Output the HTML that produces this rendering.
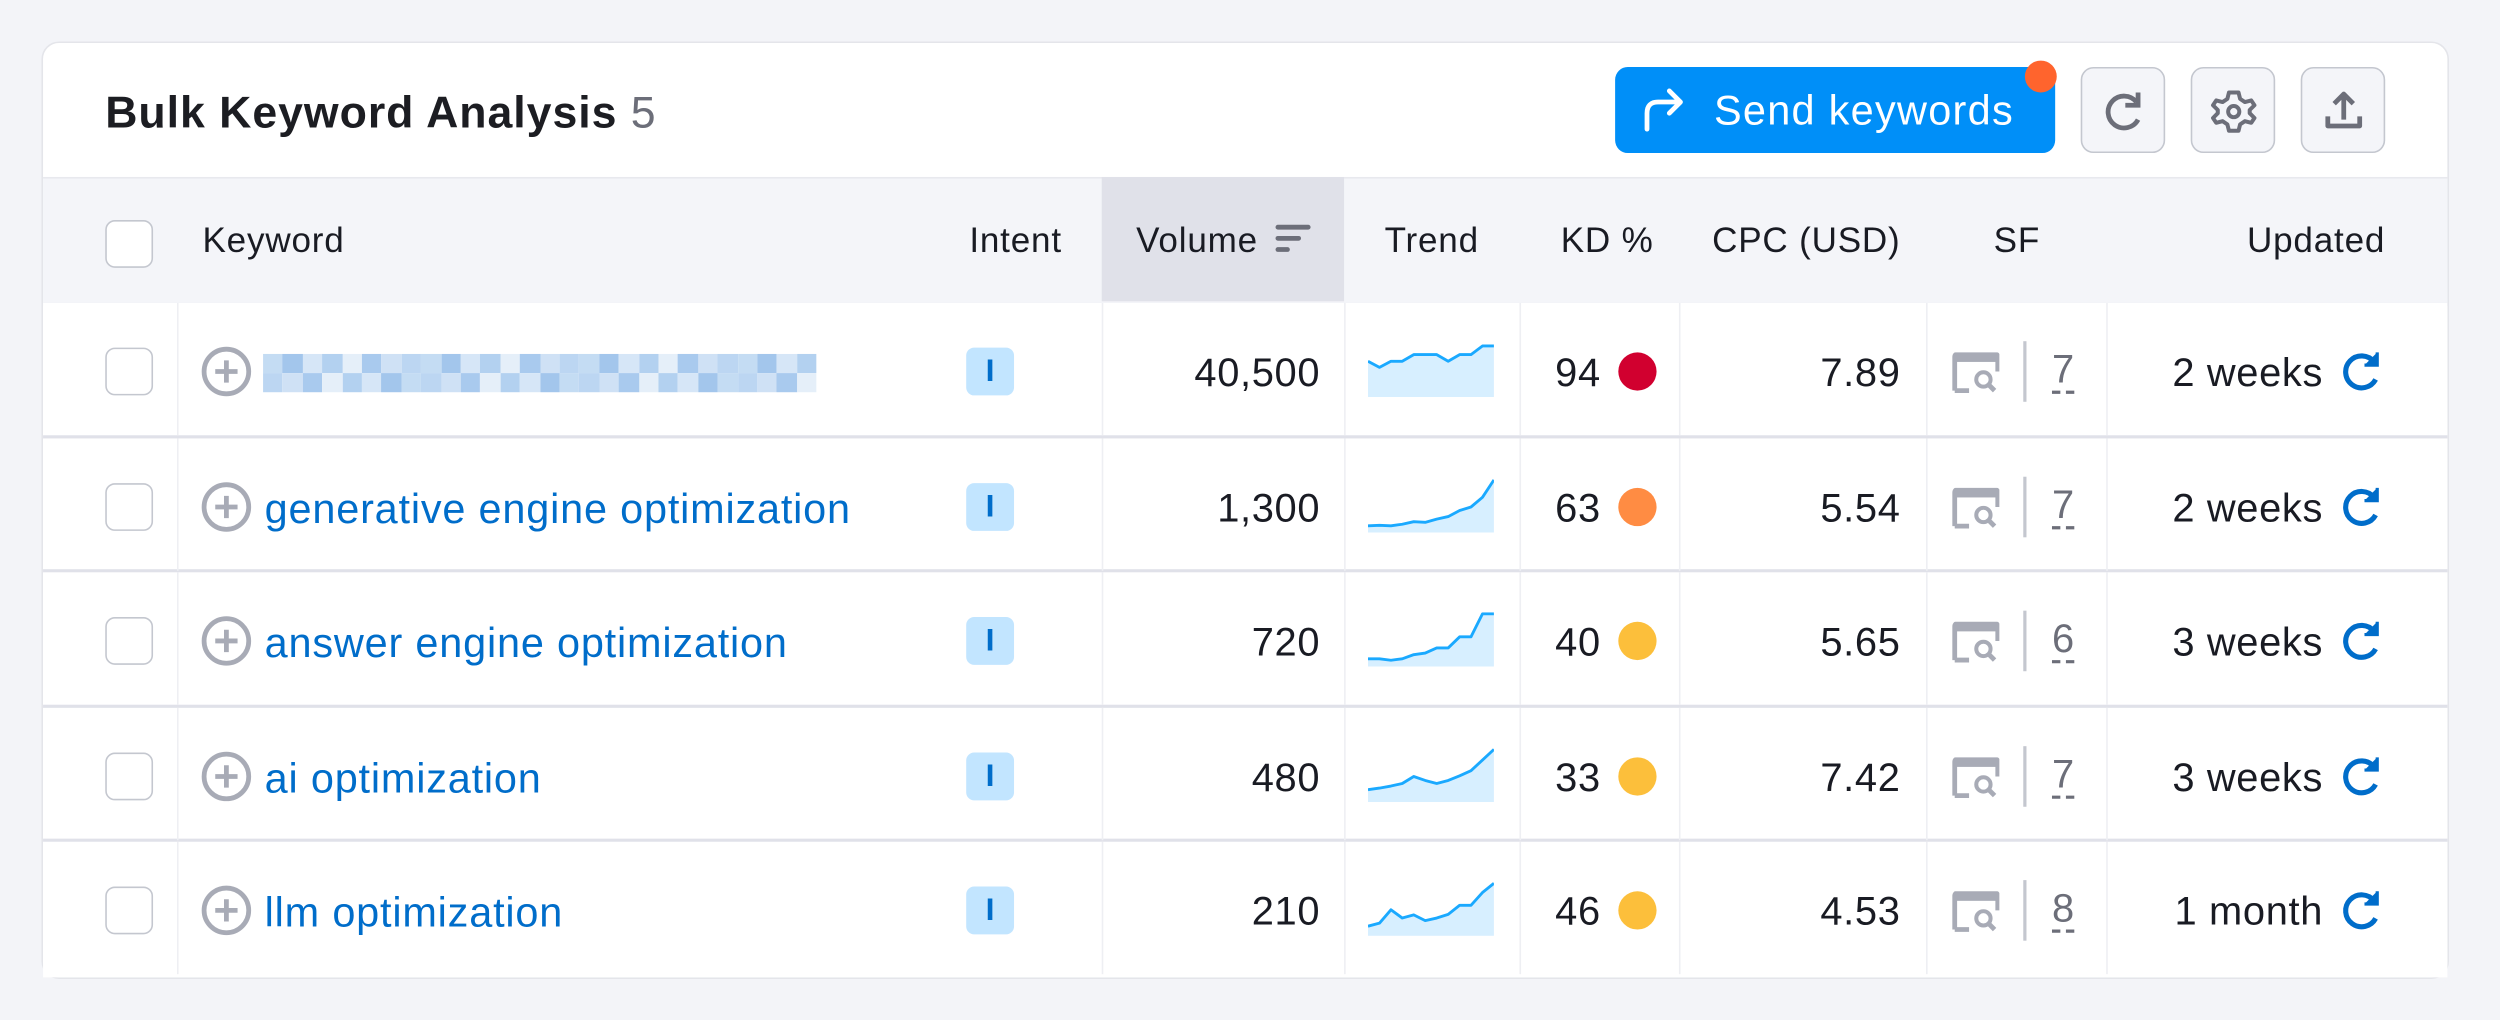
<!DOCTYPE html>
<html><head><meta charset="utf-8">
<style>
html,body{margin:0;padding:0;width:2500px;height:1020px;overflow:hidden;background:#f3f4f8;font-family:"Liberation Sans",Arial,sans-serif;}
#stage{position:absolute;left:0;top:0;width:1568px;height:640px;transform:scale(1.59439);transform-origin:0 0;}
.abs{position:absolute;}
#card{left:27px;top:27px;width:1508px;height:586px;background:#fff;border-radius:10px;box-shadow:0 0 0 1px #e4e5ea;overflow:hidden;}
.title{left:66px;top:55px;font-size:28px;letter-spacing:0.6px;font-weight:bold;color:#1c1d22;white-space:nowrap;}
.title span{font-weight:normal;color:#6c6e79;}
.send{left:1013px;top:42px;width:276px;height:54px;background:#008ff8;border-radius:8px;color:#fff;font-size:26px;letter-spacing:0.8px;}
.iconbtn{top:42px;width:51px;height:52px;background:#f4f5f9;border:1.5px solid #c4c7cf;border-radius:8px;}
.hdr{left:27px;top:111px;width:1508px;height:78px;background:#f4f5f9;border-top:1px solid #e8e9ee;border-bottom:2px solid #e0e1e9;}
.ht{font-size:22px;letter-spacing:0.5px;color:#191b23;top:138px;white-space:nowrap;}
.htr{text-align:right;}
.htc{text-align:center;}
.row{left:27px;width:1508px;height:83px;border-bottom:2px solid #e0e1e9;background:#fff;}
.vline{width:1px;background:#eeeff3;}
.cb{width:28px;height:28px;border:1.5px solid #c4c7cf;border-radius:6px;background:#fff;}
.kw{font-size:26px;letter-spacing:0.5px;color:#006dca;white-space:nowrap;}
.num{font-size:25px;letter-spacing:0.4px;color:#191b23;text-align:right;white-space:nowrap;}
.badge{width:30px;height:30px;background:#c2e5ff;border-radius:5px;color:#006dca;font-weight:bold;font-size:20px;text-align:center;line-height:30px;}
.dot{width:24px;height:24px;border-radius:50%;}
.sfn{font-size:25px;color:#6c6e79;border-bottom:2px dashed #6c6e79;line-height:25px;}
</style></head>
<body>
<div id="stage">
<div id="card" class="abs"></div>
<div class="abs title">Bulk Keyword Analysis <span>5</span></div>

<div class="abs send">
  <svg class="abs" style="left:16px;top:13px" width="30" height="28" viewBox="0 0 30 28"><path d="M4 26 V16 Q4 9 11 9 H25 M18 2 L25 9 L18 16" fill="none" stroke="#fff" stroke-width="3" stroke-linecap="round" stroke-linejoin="round"/></svg>
  <span class="abs" style="left:62px;top:12px;white-space:nowrap">Send keywords</span>
</div>
<div class="abs" style="left:1270px;top:38px;width:20px;height:20px;border-radius:50%;background:#ff642d;"></div>

<div class="abs iconbtn" style="left:1305px">
  <svg class="abs" style="left:12px;top:13px" width="28" height="28" viewBox="0 0 28 28"><path d="M22 8 A10 10 0 1 0 23 19" fill="none" stroke="#6c6e79" stroke-width="3"/><path d="M23 2 V10 H15" fill="none" stroke="#6c6e79" stroke-width="3"/></svg>
</div>
<div class="abs iconbtn" style="left:1374px">
  <svg class="abs" style="left:11px;top:12px" width="30" height="30" viewBox="0 0 30 30"><path d="M15 3 l3 0 1 4 3 2 4-1 2 3-3 3 0 2 3 3-2 3-4-1-3 2-1 4h-6l-1-4-3-2-4 1-2-3 3-3 0-2-3-3 2-3 4 1 3-2 1-4z" fill="none" stroke="#6c6e79" stroke-width="2.5" stroke-linejoin="round"/><circle cx="15" cy="15" r="3.5" fill="none" stroke="#6c6e79" stroke-width="2.5"/></svg>
</div>
<div class="abs iconbtn" style="left:1443px">
  <svg class="abs" style="left:12px;top:12px" width="28" height="28" viewBox="0 0 28 28"><path d="M14 20 V4 M8 10 L14 4 L20 10 M4 18 V24 H24 V18" fill="none" stroke="#6c6e79" stroke-width="3" stroke-linejoin="round"/></svg>
</div>

<div class="abs hdr"></div>
<div class="abs" style="left:691px;top:111px;width:152px;height:78px;background:#e0e1e9"></div>
<div class="abs cb" style="left:66px;top:138px"></div>
<div class="abs ht" style="left:127px">Keyword</div>
<div class="abs ht htr" style="left:566px;width:100px">Intent</div>
<div class="abs ht htr" style="left:689px;width:100px">Volume</div>
<svg class="abs" style="left:800px;top:139px" width="24" height="20"><rect x="0" y="2" width="22" height="3" rx="1.5" fill="#6c6e79"/><rect x="0" y="9" width="16" height="3" rx="1.5" fill="#6c6e79"/><rect x="0" y="16" width="9" height="3" rx="1.5" fill="#6c6e79"/></svg>
<div class="abs ht htc" style="left:848px;width:100px">Trend</div>
<div class="abs ht htc" style="left:958px;width:100px">KD %</div>
<div class="abs ht htr" style="left:1042px;width:150px">CPC (USD)</div>
<div class="abs ht htc" style="left:1215px;width:100px">SF</div>
<div class="abs ht htr" style="left:1346px;width:150px">Updated</div>

<div id="rows"></div>
</div>

<script>
const keywords = ["", "generative engine optimization", "answer engine optimization", "ai optimization", "llm optimization"];
const volumes = ["40,500", "1,300", "720", "480", "210"];
const kdValues = [94, 63, 40, 33, 46];
const cpcValues = ["7.89", "5.54", "5.65", "7.42", "4.53"];
const sfCounts = [7, 7, 6, 7, 8];
const updatedLabels = ["2 weeks", "2 weeks", "3 weeks", "3 weeks", "1 month"];
const trend1 = [0.67,0.55,0.67,0.67,0.8,0.8,0.8,0.67,0.8,0.8,0.97,0.97];
const trend2 = [0.1,0.11,0.1,0.13,0.18,0.17,0.23,0.28,0.4,0.47,0.66,1.0];
const trend3 = [0.12,0.12,0.09,0.12,0.2,0.23,0.33,0.33,0.55,0.55,1.0,1.0];
const trend4 = [0.21,0.24,0.28,0.33,0.47,0.39,0.33,0.39,0.48,0.58,0.79,1.0];
const trend5 = [0.16,0.22,0.48,0.32,0.38,0.27,0.32,0.39,0.57,0.57,0.82,1.0];
const trends = [trend1, trend2, trend3, trend4, trend5];

function kdColor(v){ return v>=85 ? "#d1002f" : v>=50 ? "#ff8c43" : "#fcbf3b"; }

const stage = document.getElementById('rows');
const SPARK_W = 79, SPARK_H = 34;
function sx(i, n){ return i * SPARK_W / (n - 1); }
function sy(v){ return SPARK_H - v * (SPARK_H - 2) - 1; }

function add(html, cls, style){
  const d = document.createElement('div');
  d.className = 'abs ' + (cls||'');
  d.setAttribute('style', style);
  d.innerHTML = html;
  stage.appendChild(d);
  return d;
}

for (let r = 0; r < 5; r++) {
  const top = 190 + r * 84.5;
  const cy = top + 43;
  const ty = cy - 13;
  const row = add('', 'row', 'top:' + top + 'px;height:' + (r===4?85:82.5) + 'px;' + (r===4?'border-bottom:none;':''));
  
  

  [111, 691, 843, 953, 1053, 1208, 1321].forEach(x => {
    const v = add('', 'vline', 'left:' + x + 'px;top:' + top + 'px;height:83px;');
    
    
  });

  const cb = add('', 'cb', 'left:66px;top:' + (cy-15) + 'px;');
  
  

  const plus = add('<svg width="32" height="32"><circle cx="16" cy="16" r="14" fill="none" stroke="#a8abb6" stroke-width="3"/><path d="M16 9V23M9 16H23" stroke="#a8abb6" stroke-width="3"/></svg>', '', 'left:126px;top:' + (cy-16) + 'px;');
  
  

  if (keywords[r]) {
    const kw = add(keywords[r], 'kw', 'left:166px;top:' + (ty-1) + 'px;');
    
    
  } else {
    const cols = ['#b3d1f0','#c4dcf3','#a9caee','#d6e6f7','#bcd6f2','#e5eff9','#a3c6ec','#cfe1f5'];
    let h = '';
    for (let i = 0; i < 28; i++) { h += '<div style="position:absolute;left:' + (i*12.4) + 'px;top:0;width:12.4px;height:12px;background:' + cols[(i*5+1)%8] + '"></div>'; h += '<div style="position:absolute;left:' + (i*12.4) + 'px;top:12px;width:12.4px;height:12px;background:' + cols[(i*3+4)%8] + '"></div>'; }
    const bl = add(h, '', 'left:165px;top:' + (cy-11) + 'px;width:346px;height:24px;');
    
    
  }

  const b = add('I', 'badge', 'left:606px;top:' + (cy-15) + 'px;');
  
  

  const vol = add(volumes[r], 'num', 'left:700px;width:128px;top:' + ty + 'px;');
  
  

  const t = trends[r];
  let pts = t.map((v,i) => sx(i,t.length).toFixed(1) + ',' + sy(v).toFixed(1)).join(' ');
  const area = '<polygon points="0,' + SPARK_H + ' ' + pts + ' ' + SPARK_W + ',' + SPARK_H + '" fill="#d7efff"/>';
  const line = '<polyline points="' + pts + '" fill="none" stroke="#1aa9ff" stroke-width="1.8" stroke-linejoin="round"/>';
  const sp = add('<svg width="' + SPARK_W + '" height="' + SPARK_H + '">' + area + line + '</svg>', '', 'left:858px;top:' + (cy-18) + 'px;');
  
  

  const kd = add(String(kdValues[r]), 'num', 'left:950px;width:54px;top:' + ty + 'px;');
  
  
  const dot = add('', 'dot', 'left:1015px;top:' + (cy-12) + 'px;background:' + kdColor(kdValues[r]) + ';');
  
  

  const cpc = add(cpcValues[r], 'num', 'left:1080px;width:112px;top:' + ty + 'px;');
  
  

  const sfi = add('<svg width="30" height="26"><path d="M2 24 V3 Q2 1 4 1 H27 Q29 1 29 3 V12" fill="none" stroke="#a8abb6" stroke-width="3"/><rect x="2" y="1" width="27" height="5" fill="#a8abb6"/><path d="M2 24 H11" stroke="#a8abb6" stroke-width="3"/><circle cx="20" cy="17" r="4.5" fill="none" stroke="#a8abb6" stroke-width="2.5"/><path d="M23 20 L27 24" stroke="#a8abb6" stroke-width="3"/></svg>', '', 'left:1224px;top:' + (cy-12) + 'px;');
  
  
  const sep = add('', '', 'left:1269px;top:' + (cy-19) + 'px;width:2px;height:38px;background:#c4c7cf;');
  
  
  const sfn = add(String(sfCounts[r]), 'sfn', 'left:1287px;top:' + (cy-13) + 'px;');
  
  

  const up = add(updatedLabels[r], 'num', 'left:1310px;width:147px;top:' + ty + 'px;');
  
  
  const ri = add('<svg width="28" height="28" viewBox="0 0 28 28"><path d="M22 8 A10 10 0 1 0 23 19" fill="none" stroke="#006dca" stroke-width="3.2"/><path d="M24 2 V10 H16" fill="#006dca" stroke="#006dca" stroke-width="2"/></svg>', '', 'left:1467px;top:' + (cy-14) + 'px;');
  
  
}
</script>
</body></html>
